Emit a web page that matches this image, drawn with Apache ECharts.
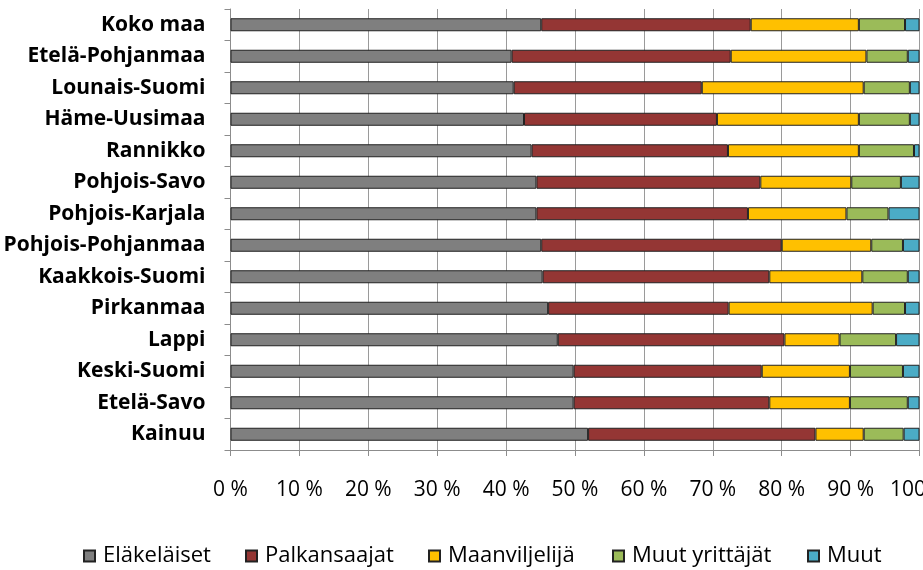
<!DOCTYPE html>
<html><head><meta charset="utf-8">
<script src="https://cdn.jsdelivr.net/npm/echarts@6/dist/echarts.min.js"></script>
<style>html,body{margin:0;padding:0;background:#fff}#c{width:923px;height:570px}</style>
</head><body><div id="c"></div>
<script>
const categories = ["Koko maa","Etelä-Pohjanmaa","Lounais-Suomi","Häme-Uusimaa","Rannikko","Pohjois-Savo","Pohjois-Karjala","Pohjois-Pohjanmaa","Kaakkois-Suomi","Pirkanmaa","Lappi","Keski-Suomi","Etelä-Savo","Kainuu"];
const seriesNames = ["Eläkeläiset","Palkansaajat","Maanviljelijä","Muut yrittäjät","Muut"];
const elakelaiset   = [45.1,40.8,41.1,42.6,43.7,44.4,44.4,45.1,45.3,46.1,47.5,49.8,49.8,51.9];
const palkansaajat  = [30.4,31.8,27.3,28.0,28.5,32.5,30.7,34.9,32.9,26.2,32.9,27.3,28.4,33.0];
const maanviljelija = [15.7,19.7,23.5,20.6,19.0,13.2,14.3,13.0,13.5,20.9,8.0,12.8,11.7,7.0];
const muutYrittajat = [6.7,6.0,6.7,7.4,8.0,7.2,6.1,4.6,6.6,4.7,8.2,7.7,8.4,5.8];
const muut          = [2.1,1.7,1.4,1.4,0.8,2.7,4.5,2.4,1.7,2.1,3.4,2.4,1.7,2.3];
const tickLabels = ["0 %","10 %","20 %","30 %","40 %","50 %","60 %","70 %","80 %","90 %","100 %"];
const colors = ["#7f7f7f","#943634","#ffc000","#9bbb59","#4bacc6"];
const legendLeft = [83,245,428,612,807];
const values = [elakelaiset,palkansaajat,maanviljelija,muutYrittajat,muut];

const chart = echarts.init(document.getElementById('c'), null, {renderer:'canvas'});
chart.setOption({
  animation:false,
  backgroundColor:'#fff',
  textStyle:{fontFamily:'Open Sans'},
  grid:{left:230.5,right:3.5,top:9,bottom:120,containLabel:false,outerBoundsMode:'none'},
  legend:seriesNames.map(function(n,i){return {
    top:545,left:legendLeft[i],padding:0,icon:'rect',itemWidth:11,itemHeight:11,
    textStyle:{fontFamily:'Open Sans',fontSize:22,lineHeight:22,color:'#000',padding:[0,0,0,3]},
    data:[n]
  };}),
  xAxis:{
    type:'value',min:0,max:100,interval:10,
    axisLine:{show:true,lineStyle:{color:'#8c8c8c',width:1}},
    axisTick:{show:true,length:6,lineStyle:{color:'#8c8c8c'}},
    splitLine:{show:true,lineStyle:{color:'#9a9a9a',width:1}},
    axisLabel:{margin:30,fontFamily:'Open Sans',fontSize:21,color:'#000',
      formatter:function(v){return tickLabels[Math.round(v/10)];}}
  },
  yAxis:{
    type:'category',data:categories,inverse:true,
    axisLine:{show:true,lineStyle:{color:'#8c8c8c',width:1}},
    axisTick:{show:true,length:6,alignWithLabel:false,lineStyle:{color:'#8c8c8c'}},
    axisLabel:{margin:25,fontFamily:'Open Sans',fontWeight:'bold',fontSize:21,color:'#000'}
  },
  series:seriesNames.map(function(n,i){return {
    name:n,type:'bar',stack:'s',barWidth:13,data:values[i],
    itemStyle:{color:colors[i],borderColor:'#222',borderWidth:1}
  };})
});
</script></body></html>
